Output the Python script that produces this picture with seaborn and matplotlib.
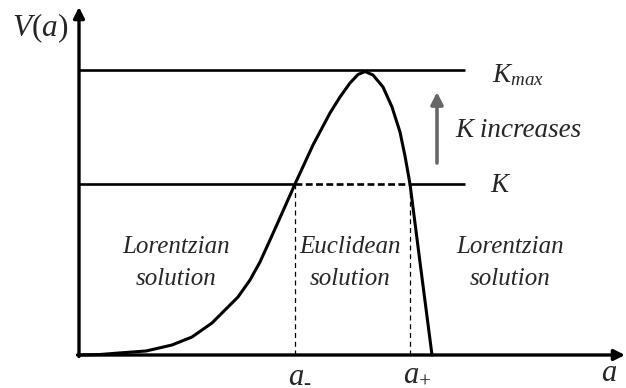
import numpy as np
import pandas as pd
import matplotlib
matplotlib.use("Agg")
import matplotlib.pyplot as plt
import seaborn as sns

# 曲線 V(a) 的取樣點
a_vals = [0.00, 0.42, 0.80, 1.34, 1.86, 2.26, 2.66, 2.88, 3.18, 3.42, 3.62, 3.82, 4.00, 4.32,
          4.68, 5.02, 5.22, 5.42, 5.58, 5.72, 5.88, 6.08, 6.26, 6.42, 6.52, 6.62, 6.84, 7.06]
V_vals = [0.00, 0.01, 0.04, 0.08, 0.20, 0.36, 0.64, 0.86, 1.16, 1.50, 1.86, 2.30, 2.70, 3.42,
          4.20, 4.84, 5.16, 5.44, 5.61, 5.67, 5.60, 5.36, 4.96, 4.46, 3.98, 3.42, 1.70, 0.00]

K = 3.42
K_max = 5.70
a_minus = 4.32
a_plus = 6.62
line_end = 7.72

region_labels = ["Lorentzian\nsolution", "Euclidean\nsolution", "Lorentzian\nsolution"]
region_centers = [1.94, 5.42, 8.62]

sns.set_style("white")
plt.rcParams['font.family'] = ['Liberation Serif', 'DejaVu Serif']
plt.rcParams['mathtext.fontset'] = 'custom'
plt.rcParams['mathtext.rm'] = 'Liberation Serif'
plt.rcParams['mathtext.it'] = 'Liberation Serif:italic'
plt.rcParams['mathtext.bf'] = 'Liberation Serif:bold'

fig = plt.figure(figsize=(6.26, 3.88), dpi=100)
ax = fig.add_axes([0, 0, 1, 1])
ax.set_axis_off()

df = pd.DataFrame({"a": a_vals, "V": V_vals})

# 水平線 K 與 K_max
ax.plot([0, line_end], [K_max, K_max], color='black', lw=1.9, solid_capstyle='butt')
ax.plot([0, a_minus], [K, K], color='black', lw=1.9, solid_capstyle='butt')
ax.plot([a_plus, line_end], [K, K], color='black', lw=1.9, solid_capstyle='butt')
ax.plot([a_minus, a_plus], [K, K], color='black', lw=1.9, ls=(0, (2.6, 1.3)))

# 垂直虛線
ax.plot([a_minus, a_minus], [0, K], color='black', lw=0.9, ls=(0, (4, 3)))
ax.plot([a_plus, a_plus], [0, K], color='black', lw=0.9, ls=(0, (4, 3)))

# 曲線
sns.lineplot(data=df, x="a", y="V", ax=ax, color='black', lw=2.2, sort=False,
             solid_joinstyle='round')
ax.set_xlim(-1.58, 10.94)
ax.set_ylim(-0.66, 7.10)

# 座標軸箭頭
ax.annotate('', xy=(0, 6.96), xytext=(0, -0.03),
            arrowprops=dict(arrowstyle='-|>', lw=2.4, color='black', mutation_scale=16, shrinkA=0, shrinkB=0))
ax.annotate('', xy=(10.92, 0), xytext=(-0.03, 0),
            arrowprops=dict(arrowstyle='-|>', lw=2.4, color='black', mutation_scale=16, shrinkA=0, shrinkB=0))

# 灰色箭頭（K increases）
ax.annotate('', xy=(7.16, 5.26), xytext=(7.16, 3.84),
            arrowprops=dict(arrowstyle='-|>', lw=2.6, color='#666666', mutation_scale=18, shrinkA=0, shrinkB=0))

# 文字
ax.text(-0.78, 6.54, '$V(a)$', fontsize=22.5, ha='center', va='center')
ax.text(8.26, 5.46, '$K_{max}$', fontsize=19.5, ha='left', va='baseline')
ax.text(7.52, 4.36, 'K increases', fontsize=19.5, style='italic', ha='left', va='baseline')
ax.text(8.22, 3.26, '$K$', fontsize=19.5, ha='left', va='baseline')
for lab, xc in zip(region_labels, region_centers):
    ax.text(xc, 1.84, lab, fontsize=18, style='italic', ha='center', va='center', linespacing=1.6)

ax.text(4.42, -0.52, r'$a_{\text{-}}$', fontsize=22, ha='center', va='baseline')
ax.text(6.76, -0.52, '$a_{+}$', fontsize=22, ha='center', va='baseline')
ax.text(10.6, -0.52, '$a$', fontsize=22, ha='center', va='baseline')

fig.savefig("out.png", dpi=100)
